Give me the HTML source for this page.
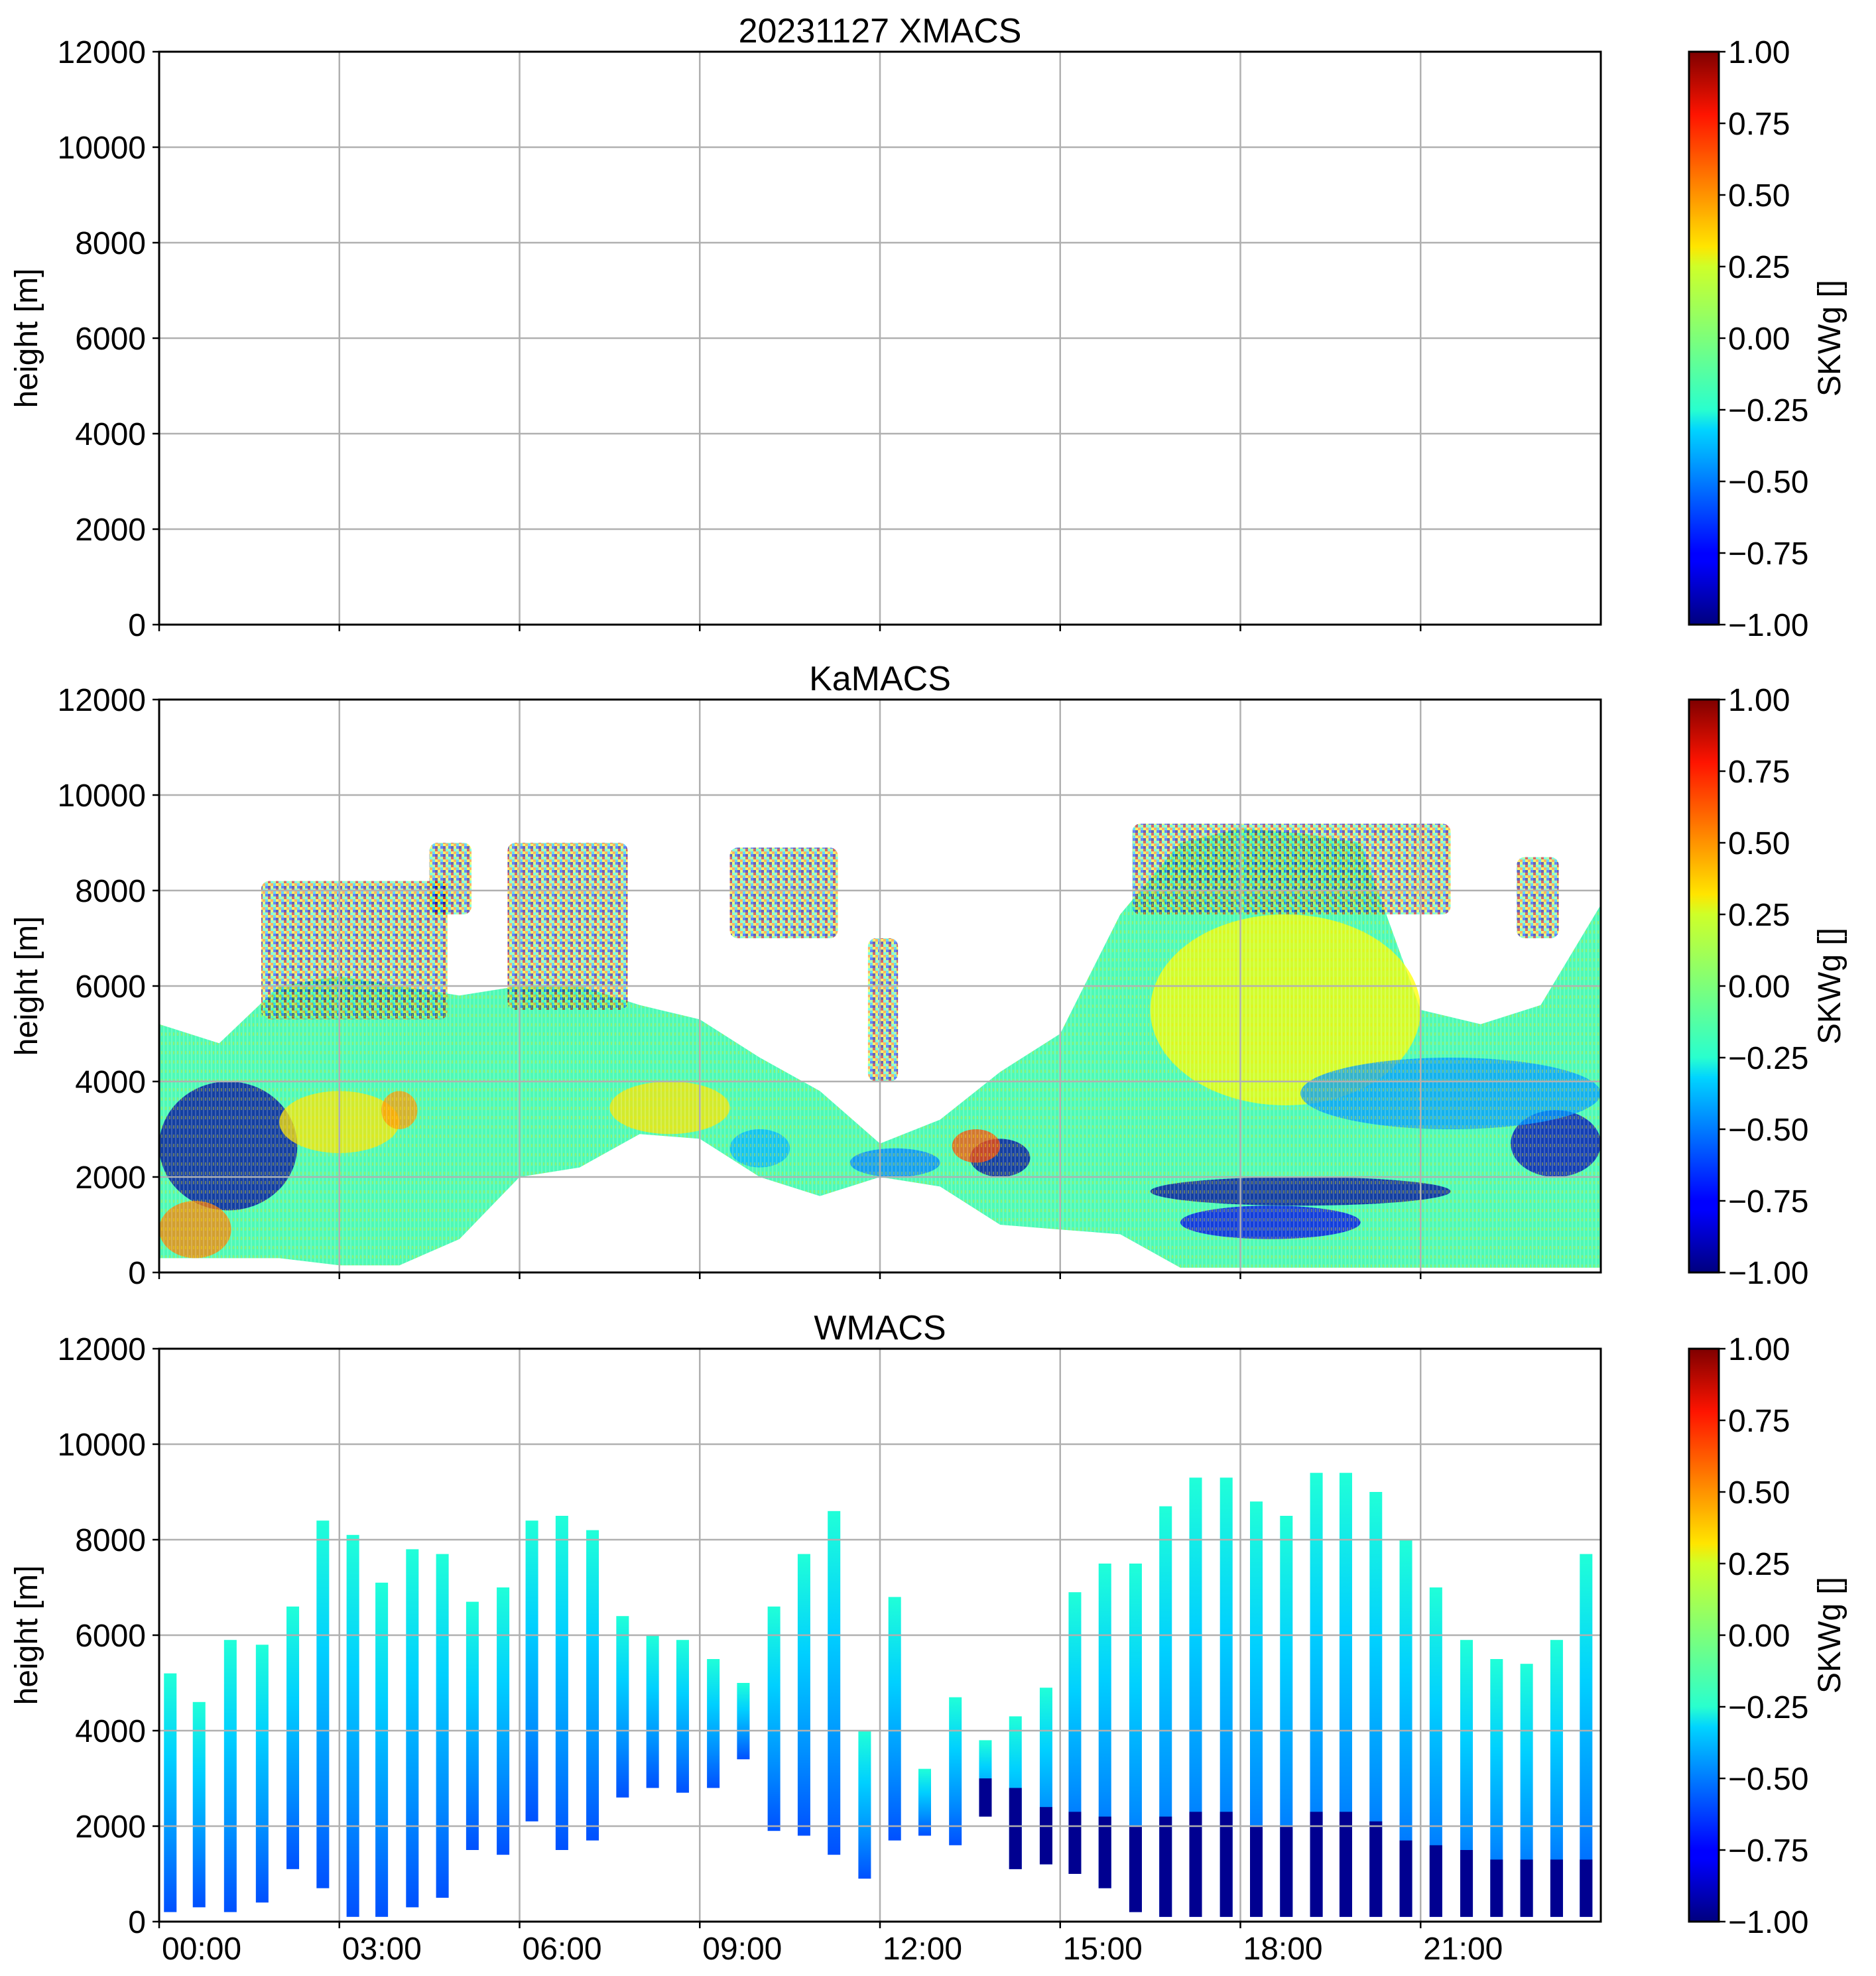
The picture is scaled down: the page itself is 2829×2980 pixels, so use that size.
<!DOCTYPE html>
<html><head><meta charset="utf-8"><style>
html,body{margin:0;padding:0;background:#fff}
svg{display:block}
text{font-family:"Liberation Sans","DejaVu Sans",sans-serif;fill:#000}
</style></head><body>
<svg id="fig" width="2829" height="2980" viewBox="0 0 2829 2980" xmlns="http://www.w3.org/2000/svg">
<defs>
<linearGradient id="jetbar" x1="0" y1="1" x2="0" y2="0">
<stop offset="0" stop-color="#00007f"/><stop offset="0.11" stop-color="#0000ff"/><stop offset="0.125" stop-color="#0000ff"/>
<stop offset="0.34" stop-color="#00d4ff"/><stop offset="0.375" stop-color="#29ffce"/><stop offset="0.5" stop-color="#7dff7a"/>
<stop offset="0.625" stop-color="#ceff29"/><stop offset="0.66" stop-color="#ffe500"/><stop offset="0.89" stop-color="#ff1400"/><stop offset="1" stop-color="#7f0000"/>
</linearGradient>
<linearGradient id="wstripe" x1="0" y1="0" x2="0" y2="1">
<stop offset="0" stop-color="#20ffd8"/><stop offset="0.35" stop-color="#00d0ff"/><stop offset="0.7" stop-color="#0090ff"/><stop offset="1" stop-color="#0050ff"/>
</linearGradient>
<pattern id="speckle" width="12" height="12" patternUnits="userSpaceOnUse">
<rect width="12" height="12" fill="#7dff7a"/>
<rect x="0" y="0" width="4" height="4" fill="#ff8000"/><rect x="4" y="4" width="4" height="4" fill="#0030ff"/>
<rect x="8" y="0" width="4" height="4" fill="#ffe500"/><rect x="0" y="8" width="4" height="4" fill="#29ffce"/>
<rect x="8" y="8" width="4" height="4" fill="#c00000"/><rect x="4" y="0" width="4" height="4" fill="#00c0ff"/>
<rect x="0" y="4" width="4" height="4" fill="#ceff29"/><rect x="8" y="4" width="4" height="4" fill="#00007f"/>
</pattern>
<pattern id="texture" width="6" height="14" patternUnits="userSpaceOnUse">
<rect x="0" y="0" width="2" height="14" fill="#ffffff" opacity="0.18"/>
<rect x="3" y="3" width="2" height="5" fill="#ffe500" opacity="0.35"/>
</pattern>
</defs>
<g id="root"></g>
</svg>
<script>
// ---------- data ----------
const hourTicks = [0,3,6,9,12,15,18,21];
const hourLabels = ["00:00","03:00","06:00","09:00","12:00","15:00","18:00","21:00"];
const heightTicks = [0,2000,4000,6000,8000,10000,12000];
const cbTicks = [-1,-0.75,-0.5,-0.25,0,0.25,0.5,0.75,1];
const cbLabels = ["\u22121.00","\u22120.75","\u22120.50","\u22120.25","0.00","0.25","0.50","0.75","1.00"];
const panelTitles = ["20231127 XMACS","KaMACS","WMACS"];
// KaMACS main cloud envelope
const kaHours = [0,1,2,3,4,5,6,7,8,9,10,11,12,13,14,15,16,17,18,19,20,21,22,23,24];
const kaTop = [5200,4800,6000,6200,6000,5800,6000,6000,5600,5300,4500,3800,2700,3200,4200,5000,7500,9000,9300,9200,9000,5500,5200,5600,7700];
const kaBase = [300,300,300,150,150,700,2000,2200,2900,2800,2000,1600,2000,1800,1000,900,800,100,100,100,100,100,100,100,100];
// KaMACS noisy upper layers
const kaSpeckleT0 = [1.7,5.8,9.5,11.8,4.5,16.2,22.6];
const kaSpeckleT1 = [4.8,7.8,11.3,12.3,5.2,21.5,23.3];
const kaSpeckleH0 = [5300,5500,7000,4000,7500,7500,7000];
const kaSpeckleH1 = [8200,9000,8900,7000,9000,9400,8700];
// KaMACS skewness patches
const kaPatchT0 = [0,2.0,3.7,7.5,13.5,13.2,16.5,16.5,17.0,22.5,19.0,0,9.5,11.5];
const kaPatchT1 = [2.3,4.0,4.3,9.5,14.5,14.0,21.0,21.5,20.0,24,24,1.2,10.5,13.0];
const kaPatchH0 = [1300,2500,3000,2900,2000,2300,3500,1400,700,2000,3000,300,2200,2000];
const kaPatchH1 = [4000,3800,3800,4000,2800,3000,7500,2000,1400,3400,4500,1500,3000,2600];
const kaPatchV = [-0.95,0.3,0.45,0.3,-0.95,0.6,0.25,-0.95,-0.8,-0.9,-0.45,0.5,-0.4,-0.5];
// WMACS profile stripes
const wTimes = [0.08,0.56,1.08,1.61,2.12,2.62,3.12,3.60,4.11,4.61,5.11,5.62,6.10,6.60,7.11,7.61,8.11,8.61,9.12,9.62,10.13,10.63,11.13,11.64,12.14,12.64,13.15,13.65,14.15,14.66,15.14,15.64,16.15,16.65,17.15,17.66,18.16,18.66,19.16,19.65,20.15,20.65,21.15,21.66,22.16,22.66,23.16,23.65];
const wTop = [5200,4600,5900,5800,6600,8400,8100,7100,7800,7700,6700,7000,8400,8500,8200,6400,6000,5900,5500,5000,6600,7700,8600,4000,6800,3200,4700,3800,4300,4900,6900,7500,7500,8700,9300,9300,8800,8500,9400,9400,9000,8000,7000,5900,5500,5400,5900,7700];
const wBase = [200,300,200,400,1100,700,100,100,300,500,1500,1400,2100,1500,1700,2600,2800,2700,2800,3400,1900,1800,1400,900,1700,1800,1600,2200,1100,1200,1000,700,200,100,100,100,100,100,100,100,100,100,100,100,100,100,100,100];
const wDark = [0,0,0,0,0,0,0,0,0,0,0,0,0,0,0,0,0,0,0,0,0,0,0,0,0,0,0,3000,2800,2400,2300,2200,2000,2200,2300,2300,2000,2000,2300,2300,2100,1700,1600,1500,1300,1300,1300,1300];

// ---------- layout ----------
const NS = "http://www.w3.org/2000/svg";
const root = document.getElementById('root');
const AX_L = 240, AX_R = 2414, PH = 864;
const panelTops = [78,1055,2034];
const CB_L = 2547, CB_R = 2592;
const xs = t => AX_L + t/24*(AX_R-AX_L);
function mk(tag, attrs, parent){ const e=document.createElementNS(NS,tag); for(const k in attrs) e.setAttribute(k,attrs[k]); (parent||root).appendChild(e); return e; }
function jet(v){ const x=(v+1)/2; const c=a=>Math.round(255*Math.max(0,Math.min(1,a)));
  return `rgb(${c(1.5-Math.abs(4*x-3))},${c(1.5-Math.abs(4*x-2))},${c(1.5-Math.abs(4*x-1))})`; }

panelTops.forEach((top,pi)=>{
  const ys = h => top + PH - h/12000*PH;
  const g = mk('g',{});
  
  
  const clipId='clip'+pi;
  const cp = mk('clipPath',{id:clipId},g); mk('rect',{x:AX_L,y:top,width:AX_R-AX_L,height:PH},cp);
  const data = mk('g',{'clip-path':`url(#${clipId})`},g);
  
  

  if(pi===1){
    let d='M'+xs(kaHours[0])+','+ys(kaTop[0]);
    kaHours.forEach((t,i)=>{ d+=' L'+xs(t)+','+ys(kaTop[i]); });
    for(let i=kaHours.length-1;i>=0;i--) d+=' L'+xs(kaHours[i])+','+ys(kaBase[i]);
    d+=' Z';
    const env = mk('path',{d:d,fill:'#5cffa0'},data);
    
    
    mk('path',{d:d,fill:'#30f0e0',opacity:0.35},data);
    kaSpeckleT0.forEach((t0,i)=>{
      const r = mk('rect',{x:xs(t0),y:ys(kaSpeckleH1[i]),width:xs(kaSpeckleT1[i])-xs(t0),height:ys(kaSpeckleH0[i])-ys(kaSpeckleH1[i]),fill:'url(#speckle)',rx:12,opacity:0.6},data);
      
      
    });
    kaPatchT0.forEach((t0,i)=>{
      const cx=(xs(t0)+xs(kaPatchT1[i]))/2, cy=(ys(kaPatchH0[i])+ys(kaPatchH1[i]))/2;
      const e = mk('ellipse',{cx:cx,cy:cy,rx:(xs(kaPatchT1[i])-xs(t0))/2,ry:(ys(kaPatchH0[i])-ys(kaPatchH1[i]))/2,fill:jet(kaPatchV[i]),opacity:0.75},data);
      
      
    });
    mk('path',{d:d,fill:'url(#texture)'},data);
  }
  if(pi===2){
    const sw = 0.21;
    wTimes.forEach((t,i)=>{
      const r = mk('rect',{x:xs(t),y:ys(wTop[i]),width:xs(t+sw)-xs(t),height:ys(wBase[i])-ys(wTop[i]),fill:'url(#wstripe)'},data);
      
      
      if(wDark[i]>wBase[i]){
        const top2 = Math.min(wDark[i], wTop[i]);
        const dk = mk('rect',{x:xs(t),y:ys(top2),width:xs(t+sw)-xs(t),height:ys(wBase[i])-ys(top2),fill:'#000090'},data);
        
        
      }
    });
  }
  hourTicks.forEach(t=>{ if(t>0) mk('line',{x1:xs(t),x2:xs(t),y1:top,y2:top+PH,stroke:'#b0b0b0','stroke-width':2.5},g); });
  heightTicks.forEach(h=>{ if(h>0&&h<12000) mk('line',{x1:AX_L,x2:AX_R,y1:ys(h),y2:ys(h),stroke:'#b0b0b0','stroke-width':2.5},g); });
  heightTicks.forEach(h=>{
    mk('line',{x1:AX_L-10,x2:AX_L,y1:ys(h),y2:ys(h),stroke:'#000','stroke-width':2.5},g);
    const tx = mk('text',{x:AX_L-20,y:ys(h)+17,'font-size':48,'text-anchor':'end'},g); tx.textContent=h;
    
    
  });
  hourTicks.forEach((t,i)=>{
    mk('line',{x1:xs(t),x2:xs(t),y1:top+PH,y2:top+PH+10,stroke:'#000','stroke-width':2.5},g);
    if(pi===2){ const tx=mk('text',{x:xs(t)+4,y:top+PH+57,'font-size':48},g); tx.textContent=hourLabels[i];
      
       }
  });
  const fr = mk('rect',{x:AX_L,y:top,width:AX_R-AX_L,height:PH,fill:'none',stroke:'#000','stroke-width':3},g);
  
  
  const tt = mk('text',{x:(AX_L+AX_R)/2,y:top-14,'font-size':52,'text-anchor':'middle'},g); tt.textContent=panelTitles[pi];
  
  
  const yl = mk('text',{x:0,y:0,'font-size':48,'text-anchor':'middle',transform:`translate(56,${top+PH/2}) rotate(-90)`},g); yl.textContent='height [m]';
  
  
  const cb = mk('g',{},g);
  
  
  mk('rect',{x:CB_L,y:top,width:CB_R-CB_L,height:PH,fill:'url(#jetbar)',stroke:'#000','stroke-width':3},cb);
  cbTicks.forEach((v,i)=>{
    const y = top + PH - (v+1)/2*PH;
    mk('line',{x1:CB_R,x2:CB_R+10,y1:y,y2:y,stroke:'#000','stroke-width':2.5},cb);
    const tx=mk('text',{x:CB_R+14,y:y+17,'font-size':48},cb); tx.textContent=cbLabels[i];
    
    
  });
  const cl = mk('text',{x:0,y:0,'font-size':48,'text-anchor':'middle',transform:`translate(2775,${top+PH/2}) rotate(-90)`},cb); cl.textContent='SKWg []';
  
  
});
</script>
</body></html>
